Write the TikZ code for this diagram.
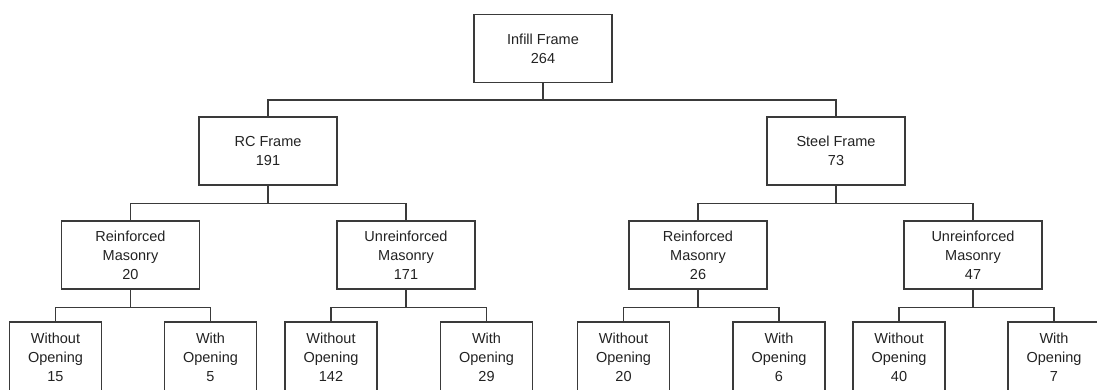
\documentclass[tikz,border=0pt]{standalone}
\usepackage{fontspec}
\setmainfont{Liberation Sans}
\definecolor{edge}{HTML}{3A3A3A}
\definecolor{txt}{HTML}{222222}
\begin{document}
\begin{tikzpicture}[x=1pt,y=-1pt,
  box/.style={draw=edge,line width=1.5pt,rectangle,minimum width=138pt,minimum height=68pt,inner sep=0pt,align=center,text=txt,font=\fontsize{14.5}{19}\selectfont},
  leaf/.style={box,minimum width=92pt,minimum height=70pt,text depth=0pt},
  link/.style={draw=edge,line width=1.5pt}]
\useasboundingbox (0,0) rectangle (1097,390);
\begin{scope}
\clip (0,0) rectangle (1097,390);
\node[box] (top) at (543,48.5) {Infill Frame\\264};
\node[box] (rc) at (268,151) {RC Frame\\191};
\node[box] (st) at (836,151) {Steel Frame\\73};
\node[box] (rm1) at (130.5,255) {Reinforced\\Masonry\\20};
\node[box] (um1) at (406,255) {Unreinforced\\Masonry\\171};
\node[box] (rm2) at (698,255) {Reinforced\\Masonry\\26};
\node[box] (um2) at (973,255) {Unreinforced\\Masonry\\47};
\node[leaf] (a1) at (55.5,357) {Without\\Opening\\15};
\node[leaf] (a2) at (210.5,357) {With\\Opening\\5};
\node[leaf] (b1) at (331,357) {Without\\Opening\\142};
\node[leaf] (b2) at (486.5,357) {With\\Opening\\29};
\node[leaf] (c1) at (623.5,357) {Without\\Opening\\20};
\node[leaf] (c2) at (779,357) {With\\Opening\\6};
\node[leaf] (d1) at (899,357) {Without\\Opening\\40};
\node[leaf] (d2) at (1054,357) {With\\Opening\\7};
\draw[link] (top.south) -- ++(0,17) -| (rc.north);
\draw[link] (top.south) -- ++(0,17) -| (st.north);
\draw[link] (rc.south) -- ++(0,18) -| (rm1.north);
\draw[link] (rc.south) -- ++(0,18) -| (um1.north);
\draw[link] (st.south) -- ++(0,18) -| (rm2.north);
\draw[link] (st.south) -- ++(0,18) -| (um2.north);
\draw[link] (rm1.south) -- ++(0,17.5) -| (a1.north);
\draw[link] (rm1.south) -- ++(0,17.5) -| (a2.north);
\draw[link] (um1.south) -- ++(0,17.5) -| (b1.north);
\draw[link] (um1.south) -- ++(0,17.5) -| (b2.north);
\draw[link] (rm2.south) -- ++(0,17.5) -| (c1.north);
\draw[link] (rm2.south) -- ++(0,17.5) -| (c2.north);
\draw[link] (um2.south) -- ++(0,17.5) -| (d1.north);
\draw[link] (um2.south) -- ++(0,17.5) -| (d2.north);
\end{scope}
\end{tikzpicture}
\end{document}
